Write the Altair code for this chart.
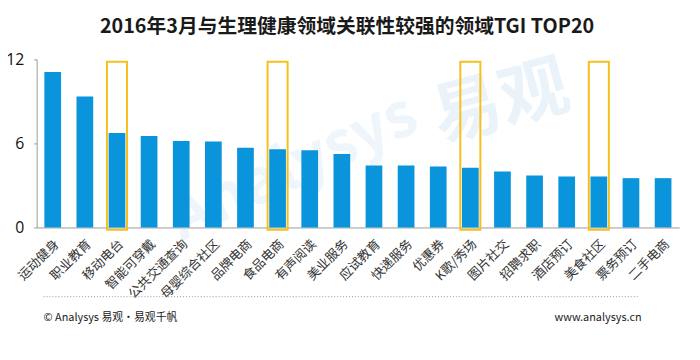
import altair as alt
import pandas as pd

categories = ["运动健身", "职业教育", "移动电台", "智能可穿戴", "公共交通查询", "母婴综合社区",
              "品牌电商", "食品电商", "有声阅读", "美业服务", "应试教育", "快递服务",
              "优惠券", "K歌/秀场", "图片社交", "招聘求职", "酒店预订", "美食社区",
              "票务预订", "二手电商"]
values = [11.1, 9.35, 6.75, 6.53, 6.17, 6.13, 5.70, 5.59, 5.52, 5.24,
          4.42, 4.42, 4.35, 4.27, 3.99, 3.71, 3.64, 3.64, 3.52, 3.52]
highlighted = ["移动电台", "食品电商", "K歌/秀场", "美食社区"]
box_top = 11.83
box_bottom = -0.16
title_text = "2016年3月与生理健康领域关联性较强的领域TGI TOP20"
footer_left = "© Analysys 易观·易观千帆"
footer_right = "www.analysys.cn"

FONT = "Noto Sans CJK SC"

df = pd.DataFrame({"cat": categories, "val": values})
hl = pd.DataFrame({"cat": highlighted, "top": [box_top] * len(highlighted),
                   "bottom": [box_bottom] * len(highlighted)})
one = pd.DataFrame({"k": [0]})

x_enc = alt.X("cat:N", sort=categories, title=None,
              scale=alt.Scale(paddingInner=0.48, paddingOuter=0.24),
              axis=alt.Axis(labelAngle=-45, labelFontSize=13, labelColor="#333333",
                            labelFont=FONT, ticks=False, domainColor="#9a9a9a",
                            labelPadding=10))
y_scale = alt.Scale(domain=[0, 12], nice=False)

bars = alt.Chart(df).mark_bar(color="#0A94DB").encode(
    x=x_enc,
    y=alt.Y("val:Q", scale=y_scale, title=None,
            axis=alt.Axis(values=[0, 6, 12], labelFontSize=16, labelColor="#111111",
                          labelFont="Open Sans", grid=False, domainColor="#9a9a9a",
                          tickColor="#9a9a9a", tickSize=3, labelPadding=10)),
)

boxes = alt.Chart(hl).mark_bar(filled=False, stroke="#F5C01E", strokeWidth=2,
                               width=alt.RelativeBandSize(1.2)).encode(
    x=alt.X("cat:N", sort=categories),
    y=alt.Y("top:Q", scale=y_scale),
    y2="bottom:Q",
)

wm1 = alt.Chart(one).mark_text(text="Analysys", fontSize=62, font=FONT, fontWeight="bold",
                               color="#cfe3f4", opacity=0.35, angle=335).encode(
    x=alt.value(260), y=alt.value(110))
wm2 = alt.Chart(one).mark_text(text="易观", fontSize=70, font=FONT, fontWeight="bold",
                               color="#cfe3f4", opacity=0.4, angle=345).encode(
    x=alt.value(470), y=alt.value(45))

title = alt.Chart(one).mark_text(text=title_text, fontSize=20, font=FONT, fontWeight="bold",
                                 color="#1a1a1a", baseline="middle", align="center").encode(
    x=alt.value(314), y=alt.value(-33))

sep = alt.Chart(one).mark_rule(color="#9a9a9a", strokeDash=[1, 2], strokeWidth=1).encode(
    x=alt.value(7), x2=alt.value(608), y=alt.value(240))

fl = alt.Chart(one).mark_text(text=footer_left, fontSize=11, font=FONT, color="#222222",
                              align="left", baseline="middle").encode(
    x=alt.value(7), y=alt.value(262))
fr = alt.Chart(one).mark_text(text=footer_right, fontSize=11, font=FONT, color="#222222",
                              align="right", baseline="middle").encode(
    x=alt.value(612), y=alt.value(262))

chart = alt.layer(wm1, wm2, bars, boxes, title, sep, fl, fr).properties(
    width=650, height=170,
    padding={"left": 29, "top": 50, "right": 13, "bottom": 124},
    autosize="none",
    background="white",
).configure_view(stroke=None)

chart.save("out.html", embed_options={"renderer": "svg", "actions": False})
